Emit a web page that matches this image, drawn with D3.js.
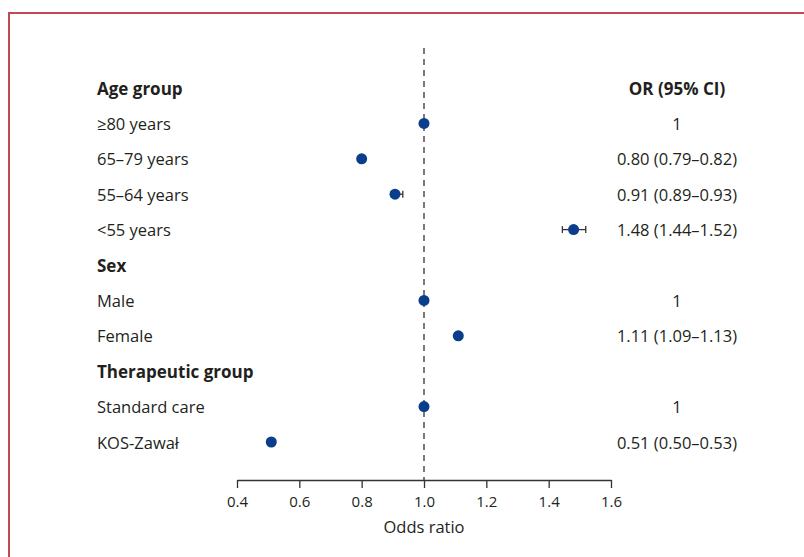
<!DOCTYPE html>
<html><head><meta charset="utf-8">
<script src="https://cdn.jsdelivr.net/npm/d3@7"></script>
<style>body{margin:0;background:#fff}svg{display:block}text{font-family:"Open Sans",sans-serif;fill:#231f20}</style>
</head><body><svg id="c" width="804" height="557"></svg>
<script>
const rowLabels = ["Age group","≥80 years","65–79 years","55–64 years","<55 years","Sex","Male","Female","Therapeutic group","Standard care","KOS-Zawał"];
const isHeader = [true,false,false,false,false,true,false,false,true,false,false];
const orValues = [null,1,0.80,0.907,1.48,null,1,1.11,null,1,0.51];
// interval ends as drawn in the picture (short ones are hidden behind the dot)
const ciLow = [null,1,0.79,0.895,1.444,null,1,1.10,null,1,0.50];
const ciHigh = [null,1,0.81,0.932,1.519,null,1,1.12,null,1,0.52];
const orText = ["OR (95% CI)","1","0.80 (0.79–0.82)","0.91 (0.89–0.93)","1.48 (1.44–1.52)","","1","1.11 (1.09–1.13)","","1","0.51 (0.50–0.53)"];
const xTicks = [0.4,0.6,0.8,1.0,1.2,1.4,1.6];

const svg = d3.select("#c");
// frame
svg.append("path").attr("d","M9,557 V13 H804").attr("fill","none").attr("stroke","#bf4b50").attr("stroke-width",2);

const x = d3.scaleLinear().domain([0.4,1.6]).range([237,611]);
const y = d3.scaleLinear().domain([0,10]).range([88,442]);
const axisY = 480;

// reference line
svg.append("line").attr("x1",x(1)).attr("x2",x(1)).attr("y1",48).attr("y2",axisY)
  .attr("stroke","#333").attr("stroke-width",1.3).attr("stroke-dasharray","6,5");

// axis
const ax = svg.append("g").attr("transform",`translate(0,${axisY})`)
  .call(d3.axisBottom(x).tickValues(xTicks).tickFormat(d3.format(".1f")).tickSize(8).tickSizeOuter(0));
ax.select(".domain").attr("stroke","#333").attr("stroke-width",1.3);
ax.selectAll(".tick line").attr("stroke","#333").attr("stroke-width",1.3);
ax.selectAll(".tick text").attr("font-size",15).attr("y",16).attr("dy","0.71em").attr("fill","#231f20").style("font-family","'Open Sans',sans-serif");
svg.append("text").attr("x",x(1)).attr("y",533).attr("text-anchor","middle").attr("font-size",16.5).text("Odds ratio");

const idx = d3.range(rowLabels.length);
// labels
svg.selectAll("text.lab").data(idx).join("text").attr("class","lab")
  .attr("x",97).attr("y",i=>y(i)).attr("dominant-baseline","central")
  .attr("font-size",i=>isHeader[i]?17:16.5).attr("font-weight",i=>isHeader[i]?700:400).text(i=>rowLabels[i]);
svg.selectAll("text.ort").data(idx).join("text").attr("class","ort")
  .attr("x",677).attr("y",i=>y(i)).attr("dominant-baseline","central").attr("text-anchor","middle")
  .attr("font-size",i=>i===0?17:16.5).attr("font-weight",i=>i===0?700:400).text(i=>orText[i]);

const pts = idx.filter(i=>orValues[i]!==null);
// CI
const ci = svg.selectAll("g.ci").data(pts).join("g").attr("class","ci").attr("stroke","#333").attr("stroke-width",1.3);
ci.append("line").attr("x1",i=>x(ciLow[i])).attr("x2",i=>x(ciHigh[i])).attr("y1",i=>y(i)).attr("y2",i=>y(i));
ci.append("line").attr("x1",i=>x(ciLow[i])).attr("x2",i=>x(ciLow[i])).attr("y1",i=>y(i)-3.5).attr("y2",i=>y(i)+3.5);
ci.append("line").attr("x1",i=>x(ciHigh[i])).attr("x2",i=>x(ciHigh[i])).attr("y1",i=>y(i)-3.5).attr("y2",i=>y(i)+3.5);
svg.selectAll("circle.pt").data(pts).join("circle").attr("class","pt")
  .attr("cx",i=>x(orValues[i])).attr("cy",i=>y(i)).attr("r",5.5).attr("fill","#0a3d8c");
</script></body></html>
